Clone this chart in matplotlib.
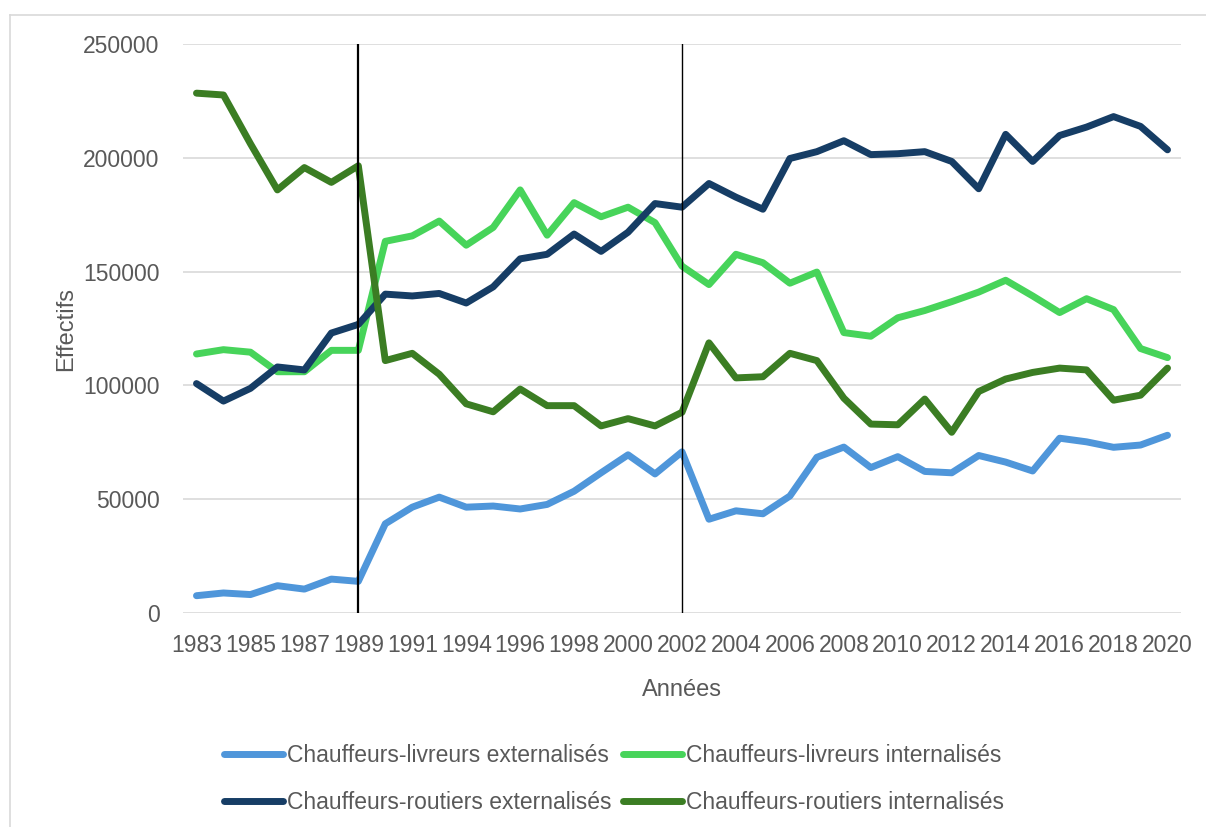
import matplotlib.pyplot as plt
from matplotlib.lines import Line2D

# Years (1993 is absent from the series)
years = [1983, 1984, 1985, 1986, 1987, 1988, 1989, 1990, 1991, 1992,
         1994, 1995, 1996, 1997, 1998, 1999, 2000, 2001, 2002, 2003,
         2004, 2005, 2006, 2007, 2008, 2009, 2010, 2011, 2012, 2013,
         2014, 2015, 2016, 2017, 2018, 2019, 2020]

livreurs_ext = [7600, 8800, 8100, 12000, 10500, 14900, 13900, 39200, 46500, 50900,
                46500, 47000, 45700, 47700, 53500, 61600, 69500, 61100, 70800, 41200,
                44900, 43600, 51400, 68400, 72900, 63900, 68700, 62200, 61600, 69200,
                66300, 62400, 76800, 75200, 72800, 73800, 78100]

livreurs_int = [113800, 115700, 114600, 106000, 106000, 115400, 115400, 163300, 165700, 172200,
                161600, 169400, 185900, 166000, 180300, 174100, 178300, 171500, 152400, 144300,
                157600, 153900, 144900, 149800, 123200, 121600, 129700, 132900, 136800, 141000,
                146200, 139300, 132000, 138100, 133300, 116200, 112200]

routiers_ext = [100800, 93100, 98700, 108100, 106800, 123000, 126800, 140100, 139300, 140400,
                136200, 143300, 155600, 157600, 166500, 158900, 167300, 179900, 178300, 188700,
                182700, 177400, 199700, 202700, 207500, 201400, 201800, 202700, 198400, 186400,
                210300, 198400, 209800, 213500, 218100, 213800, 203500]

routiers_int = [228400, 227600, 206200, 185900, 195700, 189200, 196500, 110900, 114100, 104900,
                91900, 88400, 98400, 91100, 91100, 82200, 85400, 82200, 88200, 118700,
                103300, 103800, 114100, 110900, 94400, 83000, 82700, 94000, 79400, 97300,
                102800, 105700, 107600, 106800, 93500, 95700, 107600]

series_names = ["Chauffeurs-livreurs externalisés", "Chauffeurs-livreurs internalisés",
                "Chauffeurs-routiers externalisés", "Chauffeurs-routiers internalisés"]
series_colors = ["#4F96DA", "#47D45A", "#163D65", "#3B7D23"]
marked_years = [1989, 2002]

plt.rcParams['font.family'] = ['Liberation Sans', 'DejaVu Sans']
text_color = '#595959'

fig = plt.figure(figsize=(12.06, 8.27), dpi=100)
ax = fig.add_axes([183 / 1206, 1 - 613 / 827, (1181 - 183) / 1206, (613 - 44) / 827])

x = list(range(len(years)))
all_series = [livreurs_ext, livreurs_int, routiers_ext, routiers_int]
lines = []
for values, name, color in zip(all_series, series_names, series_colors):
    ln, = ax.plot(x, values, color=color, lw=5, label=name,
                  solid_capstyle='round', solid_joinstyle='round', zorder=3)
    lines.append(ln)

# vertical marker lines
ax.axvline(years.index(marked_years[0]), color='black', lw=1.6, zorder=4)
ax.axvline(years.index(marked_years[1]), color='black', lw=1.0, zorder=4)

ax.set_xlim(-0.5, len(years) - 0.5)
ax.set_ylim(0, 250000)
ax.set_yticks(range(0, 250001, 50000))
ax.set_xticks(x[::2])
ax.set_xticklabels([str(y) for y in years[::2]])
ax.grid(axis='y', color='#D9D9D9', lw=1.2)
ax.set_axisbelow(True)
for s in ax.spines.values():
    s.set_visible(False)
ax.tick_params(axis='both', length=0, labelsize=16.5, colors=text_color)
ax.tick_params(axis='y', pad=17)
ax.tick_params(axis='x', pad=15)

ax.set_xlabel('Années', fontsize=17, color=text_color, labelpad=16)
ax.set_ylabel('Effectifs', fontsize=17, color=text_color, labelpad=4)

# legend filled row by row, like the original
order = [0, 2, 1, 3]
fig.legend([lines[i] for i in order], [series_names[i] for i in order],
           loc='center', bbox_to_anchor=(0.509, 1 - 779 / 827), ncol=2,
           frameon=False, fontsize=16.5, handlelength=2.6, handletextpad=0.15,
           columnspacing=0.5, labelspacing=1.05, labelcolor=text_color)

# outer chart border
fig.add_artist(Line2D([10 / 1206, 10 / 1206], [0, 1 - 15 / 827],
                      transform=fig.transFigure, color='#D9D9D9', lw=1.2))
fig.add_artist(Line2D([10 / 1206, 1], [1 - 15 / 827, 1 - 15 / 827],
                      transform=fig.transFigure, color='#D9D9D9', lw=1.2))

fig.savefig('out.png', dpi=100)
